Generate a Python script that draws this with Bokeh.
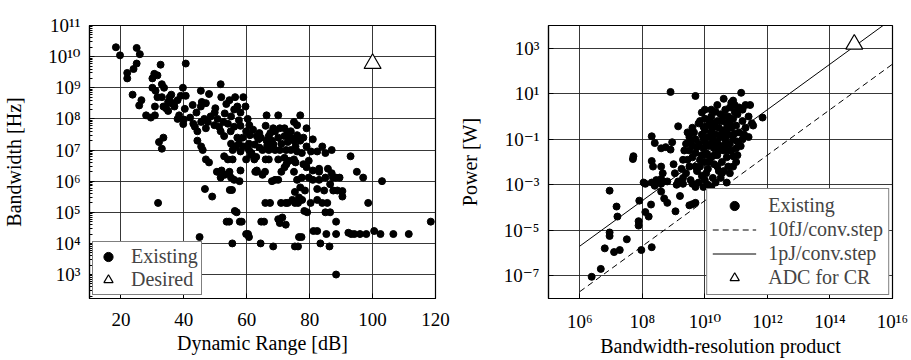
from bokeh.plotting import figure
from bokeh.layouts import row
from bokeh.models import FixedTicker, CustomJSTickFormatter, Legend, LegendItem, Range1d
from bokeh.embed import file_html
from bokeh.resources import INLINE

FONT = "Liberation Serif"
TICK_FONT = "Liberation Serif, DejaVu Serif"

# ---------------- Left panel data: Dynamic range [dB] vs bandwidth [Hz] ----------------
dr_db = [
    18.4, 19.7, 25, 26, 25, 22, 22, 24, 23.7, 25.8, 26.5, 28, 29.5, 30, 30.6, 30, 31.6, 32.6, 31, 30.8,
    30.8, 31.6, 33, 33.7, 33, 33.5, 34.3, 35, 35.5, 36, 36.8, 35, 32.1, 33.5, 33,
    39.7, 40.6, 40.6, 39, 40.3, 38.5, 40, 39.8, 42.8, 45.4, 45.7, 45.4, 48, 47, 43.5, 44.3, 45.5, 46.5,
    47, 47.6, 44.3, 45.5, 46, 47, 48, 49.8, 51.7, 51.9, 50.7, 49.7, 51.2, 52.6, 51.7, 52.8, 54.9, 54, 56,
    54.5, 56.3, 57, 58.9, 59.6, 60.3, 59.8, 60.8, 58, 57, 57.5, 58.7, 56.6, 55, 55.5, 58, 59, 60.7, 60.7,
    61.3, 52.8, 54, 55.5, 51.7, 50.5, 54.5, 56, 55, 58, 59.8, 62.4, 63.2,
    66.3, 70, 68.4, 69, 70.5, 72, 73, 67, 66.3, 68, 70, 72, 74, 75, 75, 77, 76, 63.7, 63.2, 64.5, 65, 67,
    69, 70.5, 72.5, 74, 75.5, 77, 76, 77.5, 79, 81, 80.4, 82.4, 84, 85, 87, 67, 70, 72, 73.5, 72.6, 72,
    75, 75.5, 78, 79.7, 79, 81, 83, 83, 85.8, 87, 87.4, 93, 95, 97, 103, 63.2, 65.8, 69, 70, 75, 76, 77.5,
    79.7, 81, 83, 85, 88.3, 89.5,
    46.7, 49, 54.6, 55.3, 31.8, 45, 54.4, 56.8, 58.4, 60.4, 60.7, 55.4, 64.4, 65.5, 67.4, 68.4, 71.3,
    72.4, 72.4, 75.3, 75.3, 76.3, 77.6, 77, 78.5, 75.3, 76.3, 77.4, 79.2, 80.3, 82.4, 82.4, 84, 84.6,
    85.6, 86.5, 86.5, 87.5, 88.8, 90.4, 90.4, 98.6, 82.4, 83.4, 85.3, 86.3, 88.4, 88.4, 88.4, 92.3, 93.2,
    94.2, 96, 98, 100.5, 102.5, 106.6, 111.5, 118.5,
    52, 53, 57.7, 62.7, 65, 66, 68, 71, 65.9, 70.9, 73, 74.5, 76.6, 70, 70.5, 78.3, 81.2, 85, 76.6, 59.8,
    64.6, 53.6, 57.8, 56.2,
    61, 62, 62.5, 64, 66, 67.5, 68.5, 71, 73, 74, 76, 78, 79, 61.5, 63, 64, 66.5, 53, 55, 56, 57.5, 53.5,
    58, 50, 48.5, 44, 42, 43, 38, 37, 36, 38,
]
bw_hz = [
    2e10, 1.1e10, 1.9e10, 1.2e10, 6e9, 3e9, 2e9, 4e9, 6e8, 2.7e8, 4e8, 1.3e8, 1.1e8, 2e9, 2.8e9, 1e9, 2.5e9, 5.5e9, 8e8, 1.3e8,
    2.5e8, 5e8, 1.3e9, 1e9, 5e8, 2.5e8, 2.2e8, 3.5e8, 5e8, 3.2e8, 3.2e8, 1.8e8, 1.8e7, 2.5e7, 1.1e7,
    1e9, 6e9, 5.5e8, 5.5e8, 2.1e8, 1.3e8, 9.5e7, 6.8e7, 2.8e8, 8e8, 3.5e8, 2.5e8, 6.3e8, 3.2e8, 5.6e7, 4e7, 8e7, 1e8,
    5e7, 8e7, 2e7, 1.3e7, 1e7, 5e6, 4e6, 1.6e8, 1.3e9, 5e8, 1e8, 6.3e7, 5.6e7, 8e7, 4e7, 2.8e7, 4e7, 7e7, 5.6e7,
    4e8, 5e8, 2.5e8, 5e8, 2.5e8, 1e8, 4e7, 6.3e7, 1.6e8, 2.5e7, 1.6e7, 2.5e7, 1.3e7, 1.6e7, 1e7, 9e6, 1.3e7, 1.6e7, 1e7,
    7e6, 6.3e6, 5e6, 5e6, 1.3e6, 2e6, 2e6, 1.1e6, 1.3e6, 2.2e6, 5e6, 5e6, 2.2e6,
    1.3e8, 1.3e8, 5e7, 4e7, 5e7, 5e7, 3.5e7, 2.8e7, 2e7, 2e7, 2.5e7, 2.8e7, 2.5e7, 2e7, 8e7, 1.3e8, 6.3e7, 2.2e7, 2.8e7, 2.5e7, 1e7, 1e7,
    1e7, 1e7, 1e7, 1e7, 1.3e7, 2e7, 9e6, 8e6, 1.3e7, 2.2e7, 9e6, 9e6, 1.3e7, 8e6, 1e7, 5e6, 5e6, 5.6e6, 4.5e6, 3.5e6, 2.8e6,
    5e6, 4e6, 3.5e6, 4.5e6, 2.8e6, 2.2e6, 2.5e6, 2e6, 2.5e6, 1.8e6, 1.3e6, 6.3e6, 2e6, 1.3e6, 1e6, 2e6, 2e6, 1.1e6, 1.1e6, 2e6, 1.1e6, 1.3e6,
    1.3e6, 1.1e6, 1.1e6, 1.3e6, 1.3e6, 1.3e6,
    5.6e5, 3.2e5, 5.2e5, 5.2e5, 2e5, 1.6e4, 5e4, 1e5, 5e4, 2e4, 1.6e4, 1e4, 1e4, 5e4, 2e5, 8e3, 6.8e4,
    4e4, 2e5, 4.5e5, 2e5, 2e5, 2.5e5, 6.3e5, 5e5, 8e3, 8e3, 1.6e4, 1e5, 2e5, 2.5e5, 5.6e5, 2e5, 5e5,
    2e5, 8e5, 1e5, 5e5, 5e5, 4.8e5, 3.2e5, 2e5, 2.5e4, 1e4, 2e4, 8e3, 5e4, 2e4, 1e3, 2.2e4, 2e4,
    2e4, 2e4, 2e4, 2.5e4, 2e4, 2e4, 2e4, 5e4,
    2.2e6, 1.6e6, 1e6, 2e6, 1.6e6, 5e6, 1e6, 2e6, 2e5, 2e5, 2e5, 2.5e5, 3e5, 6e4, 4.5e4, 1.1e5, 2.5e4, 1e5, 1.6e4, 2e4,
    5e4, 5e4, 5e4, 1.1e5,
    3e7, 4.5e7, 1.5e7, 3.5e7, 6e7, 3.5e7, 1.5e7, 1.6e7, 1.8e7, 4e7, 3e7, 2.5e7, 5e7, 8e6, 6e6, 1.2e7, 1.4e7, 1.5e8, 1.2e8, 2e8, 9e7, 3e8,
    6e7, 2.2e8, 1.2e8, 1.6e8, 1.1e8, 7e7, 4e8, 2.5e8, 6e8, 1e8,
]
desired_dr = [100]
desired_bw = [6e9]

x_ticks_left = [20, 40, 60, 80, 100, 120]
y_ticks_left = [1e3, 1e4, 1e5, 1e6, 1e7, 1e8, 1e9, 1e10, 1e11]

# ---------------- Right panel data: bandwidth-resolution product vs power [W] ----------------
brp = [
    2.4e6, 4.7e6, 6.3e6, 1.25e7, 1.9e7, 9e6, 9e6, 3.2e7, 1.5e7, 1.6e7, 9e6, 7.6e7, 7.6e7, 9.3e7, 2e8, 8e7, 1.9e8,
    1.25e8, 1.6e8, 4e8, 5e8, 6.3e8, 1.15e9, 1.6e9, 3.2e9, 4e9, 5e9, 1.25e8, 2.5e8, 4e8, 6.3e8, 1.25e9, 2e9, 4e9,
    5e9, 9e9, 8e8, 5e9, 8e9, 1.4e9, 2.8e9, 2e8, 2.5e8, 9e8, 4e8, 5.6e8, 8e8, 5e7, 5.2e7, 2e8, 2.2e8, 4e8, 4.5e8,
    1.1e8, 2e8, 2.8e8, 4e8, 1e9, 1.1e9, 1.8e9, 2e9, 1.4e9, 3.2e9, 4e9, 5e9, 1.45e11, 4e10, 8e10, 9e10, 7e11,
    3.2e11, 3.5e11, 2.5e11, 8e10, 5.6e10,
    2.5e9, 3.2e9, 4e9, 4e9, 5e9, 5e9, 5.6e9, 6.3e9, 6.3e9, 7e9, 8e9, 8e9, 9e9, 1e10, 1e10, 1e10, 1e10, 1.1e10,
    1.25e10, 1.25e10, 1.25e10, 1.4e10, 1.6e10, 1.6e10, 1.6e10, 1.8e10, 1.8e10, 2e10, 2e10, 2e10, 2.2e10, 2.2e10,
    2.5e10, 2.5e10, 2.8e10, 2.8e10, 3.2e10, 3.2e10, 3.2e10, 3.5e10, 3.5e10, 4e10, 4e10, 4.5e10, 4.5e10, 5e10,
    5e10, 5.6e10, 5.6e10, 6.3e10, 6.3e10, 7e10, 8e10, 8e10, 9e10, 1e11, 1e11, 1.1e11, 1.25e11, 1.25e11, 1.6e11,
    1.6e11, 2e11, 2e11, 2.5e11, 2.8e11, 7e10, 2.5e10, 1.6e10, 1e10, 7e9,
    2e9, 2.5e9, 3.2e9, 3.5e9, 6.3e9, 1e10, 1.25e10, 1.6e10, 2.2e10, 3.2e10, 4e10, 5e10, 6.3e10, 8e10, 1e11,
    1.1e11, 1.4e11, 1.6e11, 1.8e11,
    4.5e9, 5.6e9, 8e9, 9e9, 1.1e10, 1.4e10, 1.4e10, 1.8e10, 2e10, 2.2e10, 2.5e10, 2.8e10, 3.5e10, 4e10, 4.5e10,
    5e10, 6.3e10, 7e10, 9e10, 1.1e11, 1.1e10, 7e9, 2.5e10, 3.5e10, 3.5e9, 2.2e9, 2.8e9, 5.6e10, 1.6e10, 1.25e10, 9e9,
]
power_w = [
    9e-8, 2e-7, 1.6e-6, 1.1e-6, 1.35e-6, 8e-6, 5.6e-6, 4e-6, 1.1e-4, 4e-5, 5.5e-4, 2.5e-5, 1.6e-5, 1.35e-6, 1.8e-6, 2e-4, 1.35e-4,
    6.3e-5, 4e-5, 5e-4, 2.5e-4, 1.6e-4, 6.8e-5, 3.2e-4, 1.25e-4, 1.4e-4, 1.6e-4, 1.1e-3, 9e-4, 1.1e-3, 1.4e-3, 1e-3, 1.1e-3, 1.1e-3,
    8e-4, 8e-4, 12, 8, 1.5, 0.37, 0.2, 0.135, 0.068, 0.074, 0.04, 0.045, 0.035, 0.0135, 0.018, 0.011, 6.3e-3, 6.3e-3, 3.2e-3,
    1.25e-3, 1.25e-3, 1.6e-3, 1.8e-3, 8e-3, 3.2e-3, 5e-3, 2e-3, 1.4e-3, 0.032, 0.016, 6.3e-3, 11, 6, 5, 3.2, 0.9,
    0.5, 0.4, 0.125, 0.018, 6.3e-3,
    0.063, 0.125, 0.05, 0.32, 0.1, 0.025, 4e-3, 0.5, 0.063, 0.0125, 0.16, 2.5e-3, 0.04, 0.8, 0.25, 0.08, 0.01, 0.025,
    0.4, 0.125, 5e-3, 0.05, 1.0, 0.2, 0.016, 0.1, 2e-3, 0.5, 0.04, 8e-3, 1.6, 0.16,
    0.08, 0.02, 0.32, 4e-3, 1.25, 0.125, 0.05, 0.63, 0.01, 0.25, 0.032, 2, 0.1, 0.5,
    0.016, 1, 0.16, 0.063, 2.5, 0.32, 0.8, 0.1, 1.6, 0.4, 0.04, 1.25, 0.2, 2.5, 0.63,
    2, 0.32, 3.2, 1, 3.2, 4, 3.2, 2, 2, 0.63,
    0.0125, 3.2e-3, 6.3e-3, 1.6e-3, 1.25e-3, 1.6e-3, 1e-3, 8e-4, 1.25e-3, 2e-3, 4e-3, 1.25e-3, 3.2e-3, 6.3e-3, 0.01,
    0.02, 0.05, 0.1, 0.16,
    0.2, 0.045, 0.02, 0.35, 0.056, 0.7, 0.01, 0.32, 0.02, 0.063, 0.63, 0.032, 0.18, 1.0, 0.056,
    0.28, 0.56, 0.032, 0.18, 0.08, 3.2e-3, 6.3e-3, 6.3e-3, 3.2e-3, 0.08, 0.032, 0.0125, 0.032, 0.063, 0.02, 0.11,
]
adc_cr_brp = [6e14]
adc_cr_power = [1.5e3]

fom_line_brp = [1e6, 1e16]
energy_10fJ = 10e-15   # J per conversion step
energy_1pJ = 1e-12
nyquist_factor = 2
line_10fJ_power = [nyquist_factor * energy_10fJ * x for x in fom_line_brp]
line_1pJ_power = [nyquist_factor * energy_1pJ * x for x in fom_line_brp]

x_ticks_right = [1e6, 1e8, 1e10, 1e12, 1e14, 1e16]
y_ticks_right = [1e-7, 1e-5, 1e-3, 1e-1, 1e1, 1e3]

SUP_JS = """
const sup = {"0":"\u2070","1":"\u00b9","2":"\u00b2","3":"\u00b3","4":"\u2074","5":"\u2075",
             "6":"\u2076","7":"\u2077","8":"\u2078","9":"\u2079","-":"\u207b"};
const e = Math.round(Math.log10(tick));
return "10" + String(e).split("").map(c => sup[c]).join("");
"""


def style(p):
    p.outline_line_color = "black"
    p.outline_line_width = 1.2
    p.background_fill_color = "white"
    p.border_fill_color = "white"
    for ax in list(p.xaxis) + list(p.yaxis):
        ax.axis_line_color = "black"
        ax.axis_line_width = 1.2
        ax.major_tick_in = 5
        ax.major_tick_out = 0
        ax.minor_tick_in = 3
        ax.minor_tick_out = 0
        ax.major_tick_line_color = "black"
        ax.minor_tick_line_color = "black"
        ax.major_label_text_font = TICK_FONT
        ax.major_label_text_font_size = "19px"
        ax.major_label_text_color = "black"
        ax.axis_label_text_font = FONT
        ax.axis_label_text_font_size = "20px"
        ax.axis_label_text_font_style = "normal"
        ax.axis_label_text_color = "black"
    for g in list(p.xgrid) + list(p.ygrid):
        g.grid_line_color = "#222222"
        g.grid_line_width = 1
        g.grid_line_alpha = 0.9


def style_legend(leg, glyph_width, standoff, padding, spacing):
    leg.border_line_color = "black"
    leg.border_line_width = 1.2
    leg.background_fill_alpha = 1
    leg.label_text_font = FONT
    leg.label_text_font_size = "20px"
    leg.padding = padding
    leg.spacing = spacing
    leg.margin = 3
    leg.glyph_width = glyph_width
    leg.glyph_height = 23
    leg.label_height = 20
    leg.label_standoff = standoff


# ---------------- Left figure ----------------
p1 = figure(width=455, height=360, y_axis_type="log",
            x_range=Range1d(10, 120), y_range=Range1d(1.7e2, 1e11),
            output_backend="svg", toolbar_location=None,
            min_border_left=88, min_border_right=20, min_border_top=18, min_border_bottom=62)
style(p1)
p1.xaxis.ticker = FixedTicker(ticks=x_ticks_left, minor_ticks=[])
minor_left = [m * 10.0 ** k for k in range(2, 11) for m in range(2, 10)]
p1.yaxis.ticker = FixedTicker(ticks=y_ticks_left, minor_ticks=minor_left)
p1.yaxis.formatter = CustomJSTickFormatter(code=SUP_JS)
p1.xaxis.axis_label = "Dynamic Range [dB]"
p1.yaxis.axis_label = "Bandwidth [Hz]"
p1.xaxis.major_label_standoff = 14
p1.yaxis.major_label_standoff = 9
p1.xaxis.axis_label_standoff = 3
p1.yaxis.axis_label_standoff = 20

r_exist1 = p1.scatter(dr_db, bw_hz, marker="circle", size=7, fill_color="black", line_color="black")
r_des = p1.scatter(desired_dr, desired_bw, marker="triangle", size=17, fill_color="white",
                   line_color="black", line_width=1.2)
leg1 = Legend(items=[LegendItem(label="Existing", renderers=[r_exist1]),
                     LegendItem(label="Desired", renderers=[r_des])],
              location="bottom_left")
style_legend(leg1, 24, 11, 3, 0)
p1.add_layout(leg1)

# ---------------- Right figure ----------------
p2 = figure(width=456, height=360, x_axis_type="log", y_axis_type="log",
            x_range=Range1d(1e5, 1e16), y_range=Range1d(1e-8, 1e4),
            output_backend="svg", toolbar_location=None,
            min_border_left=92, min_border_right=19, min_border_top=25, min_border_bottom=59)
style(p2)
p2.xaxis.ticker = FixedTicker(ticks=x_ticks_right, minor_ticks=[])
p2.yaxis.ticker = FixedTicker(ticks=y_ticks_right, minor_ticks=[])
p2.xaxis.formatter = CustomJSTickFormatter(code=SUP_JS)
p2.yaxis.formatter = CustomJSTickFormatter(code=SUP_JS)
p2.xaxis.axis_label = "Bandwidth-resolution product"
p2.yaxis.axis_label = "Power [W]"
p2.xaxis.major_label_standoff = 12
p2.yaxis.major_label_standoff = 9
p2.xaxis.axis_label_standoff = 0
p2.yaxis.axis_label_standoff = 20

r_exist2 = p2.scatter(brp, power_w, marker="circle", size=7, fill_color="black", line_color="black")
r_10fj = p2.line(fom_line_brp, line_10fJ_power, line_color="black", line_width=1, line_dash="6 4")
r_1pj = p2.line(fom_line_brp, line_1pJ_power, line_color="black", line_width=1)
r_adc = p2.scatter(adc_cr_brp, adc_cr_power, marker="triangle", size=17, fill_color="white",
                   line_color="black", line_width=1.2)
leg2 = Legend(items=[LegendItem(label="Existing", renderers=[r_exist2]),
                     LegendItem(label="10fJ/conv.step", renderers=[r_10fj]),
                     LegendItem(label="1pJ/conv.step", renderers=[r_1pj]),
                     LegendItem(label="ADC for CR", renderers=[r_adc])],
              location="bottom_right")
style_legend(leg2, 44, 12, 5, 1)
p2.add_layout(leg2)

layout = row(p1, p2)
open("out.html", "w").write(file_html(layout, INLINE))
